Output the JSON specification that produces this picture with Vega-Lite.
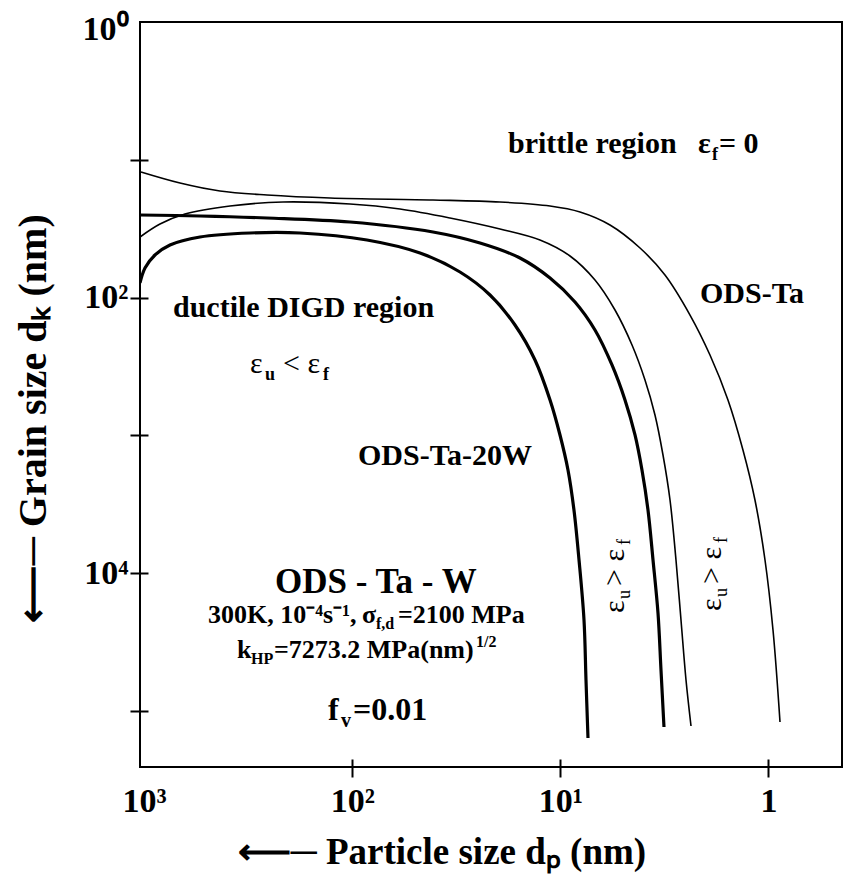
{
  "$schema": "https://vega.github.io/schema/vega-lite/v6.json",
  "width": 702,
  "height": 745,
  "autosize": {"type": "none"},
  "padding": {"left": 140, "top": 22, "right": 2, "bottom": 115},
  "background": "white",
  "config": {"view": {"stroke": "black", "strokeWidth": 2}, "font": "Liberation Serif"},
  "datasets": {
    "curves": [
      {"curve": "a", "alloy": "ODS-Ta", "dp": 1035.6, "dk": 12.26},
      {"curve": "a", "alloy": "ODS-Ta", "dp": 672.6, "dk": 14.74},
      {"curve": "a", "alloy": "ODS-Ta", "dp": 432.1, "dk": 16.84},
      {"curve": "a", "alloy": "ODS-Ta", "dp": 256.8, "dk": 18.01},
      {"curve": "a", "alloy": "ODS-Ta", "dp": 127.9, "dk": 18.93},
      {"curve": "a", "alloy": "ODS-Ta", "dp": 40.93, "dk": 19.57},
      {"curve": "a", "alloy": "ODS-Ta", "dp": 19.5, "dk": 20.24},
      {"curve": "a", "alloy": "ODS-Ta", "dp": 11.21, "dk": 21.64},
      {"curve": "a", "alloy": "ODS-Ta", "dp": 8.045, "dk": 23.92},
      {"curve": "a", "alloy": "ODS-Ta", "dp": 5.774, "dk": 29.73},
      {"curve": "a", "alloy": "ODS-Ta", "dp": 4.142, "dk": 43.66},
      {"curve": "a", "alloy": "ODS-Ta", "dp": 3.142, "dk": 68.55},
      {"curve": "a", "alloy": "ODS-Ta", "dp": 2.382, "dk": 133.8},
      {"curve": "a", "alloy": "ODS-Ta", "dp": 1.91, "dk": 260.9},
      {"curve": "a", "alloy": "ODS-Ta", "dp": 1.565, "dk": 553.5},
      {"curve": "a", "alloy": "ODS-Ta", "dp": 1.326, "dk": 1276},
      {"curve": "a", "alloy": "ODS-Ta", "dp": 1.161, "dk": 2943},
      {"curve": "a", "alloy": "ODS-Ta", "dp": 1.039, "dk": 8021},
      {"curve": "a", "alloy": "ODS-Ta", "dp": 0.951, "dk": 25840},
      {"curve": "a", "alloy": "ODS-Ta", "dp": 0.88, "dk": 120200},
      {"curve": "b", "alloy": "ODS-Ta", "dp": 1047, "dk": 36.33},
      {"curve": "b", "alloy": "ODS-Ta", "dp": 839.2, "dk": 29.24},
      {"curve": "b", "alloy": "ODS-Ta", "dp": 636.7, "dk": 24.74},
      {"curve": "b", "alloy": "ODS-Ta", "dp": 386.8, "dk": 21.64},
      {"curve": "b", "alloy": "ODS-Ta", "dp": 215.2, "dk": 20.24},
      {"curve": "b", "alloy": "ODS-Ta", "dp": 102.5, "dk": 20.93},
      {"curve": "b", "alloy": "ODS-Ta", "dp": 58.97, "dk": 22.75},
      {"curve": "b", "alloy": "ODS-Ta", "dp": 33.91, "dk": 26.44},
      {"curve": "b", "alloy": "ODS-Ta", "dp": 19.5, "dk": 31.78},
      {"curve": "b", "alloy": "ODS-Ta", "dp": 12.53, "dk": 38.19},
      {"curve": "b", "alloy": "ODS-Ta", "dp": 8.988, "dk": 49.9},
      {"curve": "b", "alloy": "ODS-Ta", "dp": 6.817, "dk": 74.53},
      {"curve": "b", "alloy": "ODS-Ta", "dp": 5.463, "dk": 123.0},
      {"curve": "b", "alloy": "ODS-Ta", "dp": 4.525, "dk": 220.8},
      {"curve": "b", "alloy": "ODS-Ta", "dp": 3.92, "dk": 396.2},
      {"curve": "b", "alloy": "ODS-Ta", "dp": 3.51, "dk": 711.0},
      {"curve": "b", "alloy": "ODS-Ta", "dp": 3.212, "dk": 1388},
      {"curve": "b", "alloy": "ODS-Ta", "dp": 2.972, "dk": 2943},
      {"curve": "b", "alloy": "ODS-Ta", "dp": 2.782, "dk": 8021},
      {"curve": "b", "alloy": "ODS-Ta", "dp": 2.632, "dk": 21860},
      {"curve": "b", "alloy": "ODS-Ta", "dp": 2.49, "dk": 59570},
      {"curve": "b", "alloy": "ODS-Ta", "dp": 2.356, "dk": 128500},
      {"curve": "c", "alloy": "ODS-Ta-20W", "dp": 1047, "dk": 25.15},
      {"curve": "c", "alloy": "ODS-Ta-20W", "dp": 539.1, "dk": 25.57},
      {"curve": "c", "alloy": "ODS-Ta-20W", "dp": 256.8, "dk": 26.44},
      {"curve": "c", "alloy": "ODS-Ta-20W", "dp": 102.5, "dk": 28.28},
      {"curve": "c", "alloy": "ODS-Ta-20W", "dp": 40.93, "dk": 33.41},
      {"curve": "c", "alloy": "ODS-Ta-20W", "dp": 24.33, "dk": 40.16},
      {"curve": "c", "alloy": "ODS-Ta-20W", "dp": 15.63, "dk": 51.6},
      {"curve": "c", "alloy": "ODS-Ta-20W", "dp": 11.21, "dk": 72.08},
      {"curve": "c", "alloy": "ODS-Ta-20W", "dp": 8.505, "dk": 107.6},
      {"curve": "c", "alloy": "ODS-Ta-20W", "dp": 6.817, "dk": 171.8},
      {"curve": "c", "alloy": "ODS-Ta-20W", "dp": 5.648, "dk": 308.4},
      {"curve": "c", "alloy": "ODS-Ta-20W", "dp": 4.891, "dk": 553.5},
      {"curve": "c", "alloy": "ODS-Ta-20W", "dp": 4.378, "dk": 993.4},
      {"curve": "c", "alloy": "ODS-Ta-20W", "dp": 4.053, "dk": 1783},
      {"curve": "c", "alloy": "ODS-Ta-20W", "dp": 3.792, "dk": 3478},
      {"curve": "c", "alloy": "ODS-Ta-20W", "dp": 3.587, "dk": 8021},
      {"curve": "c", "alloy": "ODS-Ta-20W", "dp": 3.395, "dk": 19440},
      {"curve": "c", "alloy": "ODS-Ta-20W", "dp": 3.284, "dk": 50420},
      {"curve": "c", "alloy": "ODS-Ta-20W", "dp": 3.177, "dk": 130700},
      {"curve": "d", "alloy": "ODS-Ta-20W", "dp": 1047, "dk": 78.34},
      {"curve": "d", "alloy": "ODS-Ta-20W", "dp": 990.8, "dk": 60.98},
      {"curve": "d", "alloy": "ODS-Ta-20W", "dp": 887.1, "dk": 49.08},
      {"curve": "d", "alloy": "ODS-Ta-20W", "dp": 751.4, "dk": 41.52},
      {"curve": "d", "alloy": "ODS-Ta-20W", "dp": 539.1, "dk": 36.33},
      {"curve": "d", "alloy": "ODS-Ta-20W", "dp": 309.9, "dk": 33.97},
      {"curve": "d", "alloy": "ODS-Ta-20W", "dp": 178.3, "dk": 33.97},
      {"curve": "d", "alloy": "ODS-Ta-20W", "dp": 84.97, "dk": 38.19},
      {"curve": "d", "alloy": "ODS-Ta-20W", "dp": 47.25, "dk": 47.46},
      {"curve": "d", "alloy": "ODS-Ta-20W", "dp": 30.36, "dk": 65.2},
      {"curve": "d", "alloy": "ODS-Ta-20W", "dp": 21.78, "dk": 95.74},
      {"curve": "d", "alloy": "ODS-Ta-20W", "dp": 16.52, "dk": 158.1},
      {"curve": "d", "alloy": "ODS-Ta-20W", "dp": 13.24, "dk": 283.7},
      {"curve": "d", "alloy": "ODS-Ta-20W", "dp": 11.21, "dk": 553.5},
      {"curve": "d", "alloy": "ODS-Ta-20W", "dp": 10.04, "dk": 993.4},
      {"curve": "d", "alloy": "ODS-Ta-20W", "dp": 9.19, "dk": 1783},
      {"curve": "d", "alloy": "ODS-Ta-20W", "dp": 8.602, "dk": 3478},
      {"curve": "d", "alloy": "ODS-Ta-20W", "dp": 8.134, "dk": 8021},
      {"curve": "d", "alloy": "ODS-Ta-20W", "dp": 7.698, "dk": 21860},
      {"curve": "d", "alloy": "ODS-Ta-20W", "dp": 7.53, "dk": 59570},
      {"curve": "d", "alloy": "ODS-Ta-20W", "dp": 7.365, "dk": 157000}
    ],
    "bold30": [
      {"label": "brittle region", "dp": 17.85, "dk": 8.925},
      {"label": "ε", "dp": 2.181, "dk": 8.925},
      {"label": "= 0", "dp": 1.729, "dk": 8.925},
      {"label": "ODS-Ta", "dp": 2.133, "dk": 109.4},
      {"label": "ductile DIGD region", "dp": 726.7, "dk": 138.3},
      {"label": "ODS-Ta-20W", "dp": 93.84, "dk": 1640}
    ],
    "sub18": [
      {"label": "f", "dp": 1.867, "dk": 10.03},
      {"label": "u", "dp": 262.6, "dk": 396.2},
      {"label": "f", "dp": 138.2, "dk": 396.2}
    ],
    "reg30": [
      {"label": "ε", "dp": 309.9, "dk": 352.5},
      {"label": "< ε", "dp": 215.2, "dk": 352.5}
    ],
    "big35": [
      {"label": "ODS - Ta - W", "dp": 235.1, "dk": 13920}
    ],
    "param26": [
      {"label": "300K, 10⁻⁴s⁻¹,", "dp": 493.4, "dk": 22980},
      {"label": "σ", "dp": 89.79, "dk": 22980},
      {"label": "=2100 MPa", "dp": 60.29, "dk": 22980},
      {"label": "k", "dp": 357.9, "dk": 41240},
      {"label": "=7273.2 MPa(nm)", "dp": 237.7, "dk": 41240}
    ],
    "param16": [
      {"label": "f,d", "dp": 76.88, "dk": 25400},
      {"label": "HP", "dp": 306.5, "dk": 45600},
      {"label": "1/2", "dp": 25.43, "dk": 34320}
    ],
    "fv32": [
      {"label": "f", "dp": 130.8, "dk": 116200},
      {"label": "=0.01", "dp": 99.17, "dk": 116200}
    ],
    "fv20": [
      {"label": "v", "dp": 113.3, "dk": 130700}
    ],
    "rot30": [
      {"label": "ε", "dp": 4.945, "dk": 19440},
      {"label": "> ε", "dp": 4.945, "dk": 12390},
      {"label": "ε", "dp": 1.691, "dk": 18800},
      {"label": "> ε", "dp": 1.691, "dk": 11980}
    ],
    "rot18": [
      {"label": "u", "dp": 4.628, "dk": 15390},
      {"label": "f", "dp": 4.628, "dk": 6243},
      {"label": "u", "dp": 1.582, "dk": 14890},
      {"label": "f", "dp": 1.582, "dk": 6037}
    ]
  },
  "encoding": {
    "x": {
      "field": "dp",
      "type": "quantitative",
      "scale": {"type": "log", "domain": [0.4432, 1047], "reverse": true, "nice": false},
      "axis": {
        "values": [1000, 100, 10, 1],
        "labelExpr": "datum.value == 1000 ? '10³' : datum.value == 100 ? '10²' : datum.value == 10 ? '10¹' : '1'",
        "domain": false,
        "grid": false,
        "offset": -8,
        "tickSize": 18,
        "tickWidth": 2,
        "tickColor": "black",
        "tickOpacity": {"condition": {"test": "datum.value == 1000", "value": 0}, "value": 1},
        "labelFont": "Liberation Serif",
        "labelFontWeight": "bold",
        "labelFontSize": 34,
        "labelColor": "black",
        "labelPadding": 7,
        "labelFlush": false,
        "labelOverlap": false,
        "title": "⟵─  Particle size dₚ  (nm)",
        "titleFont": "Liberation Serif",
        "titleFontWeight": "bold",
        "titleFontSize": 37,
        "titleColor": "black",
        "titleX": 97,
        "titleY": 104,
        "titleAlign": "left",
        "titleBaseline": "alphabetic"
      }
    },
    "y": {
      "field": "dk",
      "type": "quantitative",
      "scale": {"type": "log", "domain": [1, 255000], "reverse": true, "nice": false},
      "axis": {
        "values": [1, 10, 100, 1000, 10000, 100000],
        "labelExpr": "datum.value == 1 ? '10⁰' : datum.value == 100 ? '10²' : datum.value == 10000 ? '10⁴' : ''",
        "domain": false,
        "grid": false,
        "offset": -8,
        "tickSize": 18,
        "tickWidth": 2,
        "tickColor": "black",
        "tickOpacity": {"condition": {"test": "datum.value == 1", "value": 0}, "value": 1},
        "labelOffset": {"condition": {"test": "datum.value == 1", "value": 7}, "value": 0},
        "labelFont": "Liberation Serif",
        "labelFontWeight": "bold",
        "labelFontSize": 34,
        "labelColor": "black",
        "labelPadding": 2,
        "labelFlush": false,
        "labelOverlap": false,
        "title": "⟵─  Grain size dₖ  (nm)",
        "titleFont": "Liberation Serif",
        "titleFontWeight": "bold",
        "titleFontSize": 40,
        "titleColor": "black",
        "titleAngle": 270,
        "titleX": -103,
        "titleY": 600,
        "titleAlign": "left",
        "titleBaseline": "alphabetic"
      }
    }
  },
  "layer": [
    {
      "data": {"name": "curves"},
      "mark": {"type": "line", "interpolate": "catmull-rom", "color": "black", "clip": true},
      "encoding": {
        "detail": {"field": "curve", "type": "nominal"},
        "strokeWidth": {"field": "alloy", "type": "nominal", "scale": {"domain": ["ODS-Ta", "ODS-Ta-20W"], "range": [1.6, 3.2]}, "legend": null}
      }
    },
    {
      "data": {"name": "bold30"},
      "mark": {"type": "text", "align": "left", "baseline": "alphabetic", "font": "Liberation Serif", "fontWeight": "bold", "fontSize": 30, "color": "black"},
      "encoding": {"text": {"field": "label"}}
    },
    {
      "data": {"name": "sub18"},
      "mark": {"type": "text", "align": "left", "baseline": "alphabetic", "font": "Liberation Serif", "fontWeight": "bold", "fontSize": 18, "color": "black"},
      "encoding": {"text": {"field": "label"}}
    },
    {
      "data": {"name": "reg30"},
      "mark": {"type": "text", "align": "left", "baseline": "alphabetic", "font": "Liberation Serif", "fontSize": 30, "color": "black"},
      "encoding": {"text": {"field": "label"}}
    },
    {
      "data": {"name": "big35"},
      "mark": {"type": "text", "align": "left", "baseline": "alphabetic", "font": "Liberation Serif", "fontWeight": "bold", "fontSize": 35, "color": "black"},
      "encoding": {"text": {"field": "label"}}
    },
    {
      "data": {"name": "param26"},
      "mark": {"type": "text", "align": "left", "baseline": "alphabetic", "font": "Liberation Serif", "fontWeight": "bold", "fontSize": 26, "color": "black"},
      "encoding": {"text": {"field": "label"}}
    },
    {
      "data": {"name": "param16"},
      "mark": {"type": "text", "align": "left", "baseline": "alphabetic", "font": "Liberation Serif", "fontWeight": "bold", "fontSize": 16, "color": "black"},
      "encoding": {"text": {"field": "label"}}
    },
    {
      "data": {"name": "fv32"},
      "mark": {"type": "text", "align": "left", "baseline": "alphabetic", "font": "Liberation Serif", "fontWeight": "bold", "fontSize": 32, "color": "black"},
      "encoding": {"text": {"field": "label"}}
    },
    {
      "data": {"name": "fv20"},
      "mark": {"type": "text", "align": "left", "baseline": "alphabetic", "font": "Liberation Serif", "fontWeight": "bold", "fontSize": 20, "color": "black"},
      "encoding": {"text": {"field": "label"}}
    },
    {
      "data": {"name": "rot30"},
      "mark": {"type": "text", "align": "left", "baseline": "alphabetic", "angle": 270, "font": "Liberation Serif", "fontSize": 30, "color": "black"},
      "encoding": {"text": {"field": "label"}}
    },
    {
      "data": {"name": "rot18"},
      "mark": {"type": "text", "align": "left", "baseline": "alphabetic", "angle": 270, "font": "Liberation Serif", "fontSize": 18, "color": "black"},
      "encoding": {"text": {"field": "label"}}
    }
  ]
}
